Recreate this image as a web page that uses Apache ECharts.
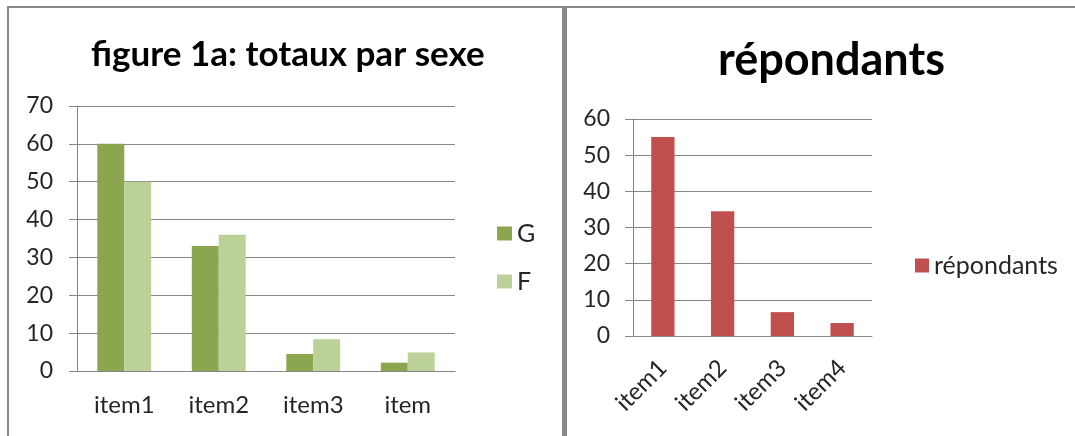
<!DOCTYPE html>
<html>
<head>
<meta charset="utf-8">
<script src="https://cdn.jsdelivr.net/npm/echarts@6/dist/echarts.min.js"></script>
<style>
  html, body { margin: 0; padding: 0; background: #fff; }
  #chart { width: 1075px; height: 436px; }
</style>
</head>
<body>
<div id="chart"></div>
<script>
// figure 1a data
const sexCategories = ['item1', 'item2', 'item3', 'item']
const garcons = [60, 33, 4.5, 2.2]
const filles = [50, 36, 8.4, 4.9]
const sexTicks = { min: 0, max: 70, interval: 10 }

// répondants data
const repCategories = ['item1', 'item2', 'item3', 'item4']
const repondants = [55, 34.5, 6.6, 3.6]
const repTicks = { min: 0, max: 60, interval: 10 }

const FONT = 'Lato'
const axisGray = '#868686'
const textColor = '#262626'

function valueAxis(gridIndex, ticks, margin) {
  return {
    type: 'value',
    gridIndex,
    min: ticks.min,
    max: ticks.max,
    interval: ticks.interval,
    axisLine: { show: true, lineStyle: { color: axisGray, width: 1 } },
    axisTick: { show: true, length: 8, lineStyle: { color: axisGray } },
    splitLine: { show: true, lineStyle: { color: axisGray, width: 1 } },
    axisLabel: { fontFamily: FONT, fontSize: 23, color: textColor, margin }
  }
}

const chart = echarts.init(document.getElementById('chart'))
chart.setOption({
  animation: false,
  title: [
    {
      text: 'figure 1a: totaux par sexe',
      left: 86,
      top: 32,
      textStyle: { fontFamily: FONT, fontWeight: 'bold', fontSize: 35, color: '#000' }
    },
    {
      text: 'répondants',
      left: 713,
      top: 33,
      textStyle: { fontFamily: FONT, fontWeight: 'bold', fontSize: 45, color: '#000' }
    }
  ],
  legend: [
    {
      data: ['G', 'F'],
      orient: 'vertical',
      left: 492,
      top: 216,
      itemWidth: 15,
      itemHeight: 14,
      itemGap: 23,
      icon: 'rect',
      textStyle: { fontFamily: FONT, fontSize: 25, color: textColor }
    },
    {
      data: ['répondants'],
      orient: 'vertical',
      left: 910,
      top: 248,
      itemWidth: 14,
      itemHeight: 14,
      icon: 'rect',
      textStyle: { fontFamily: FONT, fontSize: 25, color: textColor }
    }
  ],
  grid: [
    { left: 77, top: 106, width: 378, height: 265 },
    { left: 633, top: 119, width: 239, height: 217 }
  ],
  xAxis: [
    {
      type: 'category',
      gridIndex: 0,
      data: sexCategories,
      axisLine: { lineStyle: { color: axisGray } },
      axisTick: { length: 9, lineStyle: { color: axisGray } },
      axisLabel: { fontFamily: FONT, fontSize: 24, color: textColor, margin: 22 }
    },
    {
      type: 'category',
      gridIndex: 1,
      data: repCategories,
      axisLine: { lineStyle: { color: axisGray } },
      axisTick: { length: 9, lineStyle: { color: axisGray } },
      axisLabel: { fontFamily: FONT, fontSize: 24, color: textColor, rotate: 45, margin: 28 }
    }
  ],
  yAxis: [
    valueAxis(0, sexTicks, 24),
    valueAxis(1, repTicks, 23)
  ],
  series: [
    {
      name: 'G',
      type: 'bar',
      xAxisIndex: 0,
      yAxisIndex: 0,
      data: garcons,
      barGap: 0,
      barCategoryGap: '43%',
      itemStyle: { color: '#8ca54f' }
    },
    {
      name: 'F',
      type: 'bar',
      xAxisIndex: 0,
      yAxisIndex: 0,
      data: filles,
      barGap: 0,
      barCategoryGap: '43%',
      itemStyle: { color: '#bcd198' }
    },
    {
      name: 'répondants',
      type: 'bar',
      xAxisIndex: 1,
      yAxisIndex: 1,
      data: repondants,
      barCategoryGap: '61%',
      itemStyle: { color: '#c0504d' }
    }
  ],
  // panel borders
  graphic: [
    { type: 'rect', shape: { x: 7, y: 6, width: 1068, height: 2 }, style: { fill: '#888' } },
    { type: 'rect', shape: { x: 7, y: 6, width: 2, height: 430 }, style: { fill: '#888' } },
    { type: 'rect', shape: { x: 562, y: 6, width: 5, height: 430 }, style: { fill: '#888' } }
  ]
})
</script>
</body>
</html>
